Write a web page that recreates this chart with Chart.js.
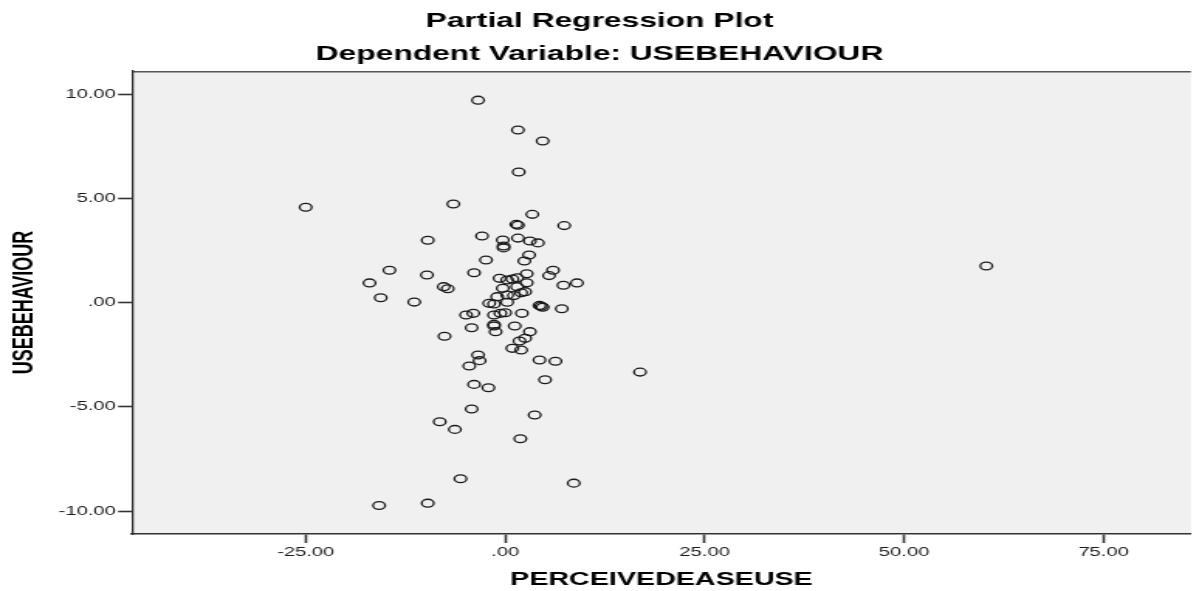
<!DOCTYPE html>
<html>
<head>
<meta charset="utf-8">
<script src="https://cdn.jsdelivr.net/npm/chart.js@4.4.0/dist/chart.umd.min.js"></script>
<style>
  html, body { margin: 0; padding: 0; background: #ffffff; overflow: hidden; }
  #wrap { position: absolute; left: 0; top: 0; width: 774px; height: 591px; transform-origin: 0 0; transform: scaleX(1.54910); }
</style>
</head>
<body>
<div id="wrap"><canvas id="c"></canvas></div>
<script>
// Data
const xValues = [-3.4, 1.6, 4.7, 1.7, -25.0, -6.5, 3.4, 1.4, 1.6, 7.4,
  -9.7, -2.9, -0.3, 1.6, 3.1, 4.1, -0.2, -0.2, 3.0, 2.4,
  -2.4, -14.5, -9.8, -3.9, 6.0, 5.5, 2.7, -0.7, 0.25, 0.9,
  1.5, 2.7, -17.0, 9.0, 7.3, -7.7, -7.2, -0.3, 1.5, 2.5,
  2.0, 0.25, -1.0, 1.1, -15.6, -11.4, -2.0, -1.4, 0.25, 4.3,
  4.7, 4.5, 7.1, -4.9, -4.0, -1.4, -0.6, 0.0, 2.1, -1.4,
  -1.4, -4.2, 1.2, -1.2, 3.1, 2.5, 1.8, -7.6, 0.9, 2.0,
  -3.4, -3.2, -4.5, 4.3, 6.3, 5.0, -3.9, -2.1, -4.2, 3.7,
  -8.2, -6.3, 1.9, -5.6, 8.6, -9.7, -15.8, 60.3, 16.9];
const yValues = [9.72, 8.29, 7.76, 6.27, 4.58, 4.74, 4.24, 3.76, 3.72, 3.70,
  3.00, 3.20, 3.01, 3.10, 2.96, 2.87, 2.72, 2.63, 2.29, 2.00,
  2.05, 1.56, 1.33, 1.44, 1.56, 1.30, 1.39, 1.17, 1.09, 1.14,
  1.20, 0.96, 0.95, 0.95, 0.84, 0.77, 0.67, 0.69, 0.77, 0.53,
  0.48, 0.37, 0.29, 0.34, 0.24, 0.03, -0.03, -0.06, 0.02, -0.13,
  -0.22, -0.17, -0.29, -0.59, -0.51, -0.59, -0.51, -0.48, -0.51, -1.04,
  -1.12, -1.20, -1.12, -1.39, -1.39, -1.71, -1.84, -1.61, -2.19, -2.27,
  -2.51, -2.78, -3.04, -2.75, -2.81, -3.70, -3.92, -4.08, -5.10, -5.39,
  -5.71, -6.08, -6.53, -8.45, -8.66, -9.62, -9.73, 1.76, -3.33];

const xTickValues = [-25, 0, 25, 50, 75];
const xTickLabels = ['-25.00', '.00', '25.00', '50.00', '75.00'];
const yTickValues = [-10, -5, 0, 5, 10];
const yTickLabels = ['-10.00', '-5.00', '.00', '5.00', '10.00'];

const titleText = 'Partial Regression Plot';
const subtitleText = 'Dependent Variable: USEBEHAVIOUR';
const xTitle = 'PERCEIVEDEASEUSE';
const yTitle = 'USEBEHAVIOUR';

const points = xValues.map((x, i) => ({ x: x, y: yValues[i] }));
const FAMILY = "'Liberation Sans', Arial, sans-serif";

const plotBg = {
  id: 'plotBg',
  beforeDraw(chart) {
    const { ctx, chartArea: a } = chart;
    ctx.save();
    ctx.fillStyle = '#f0f0f0';
    ctx.fillRect(a.left, a.top, a.right - a.left, a.bottom - a.top);
    ctx.strokeStyle = '#555555';
    ctx.lineWidth = 1.5;
    ctx.beginPath();
    ctx.moveTo(a.left, a.top + 0.75);
    ctx.lineTo(a.right, a.top + 0.75);
    ctx.stroke();
    ctx.restore();
  }
};

new Chart(document.getElementById('c'), {
  type: 'scatter',
  data: {
    datasets: [{
      data: points,
      pointStyle: 'circle',
      pointRadius: 3.9,
      pointHoverRadius: 3.9,
      pointBorderWidth: 1.3,
      borderColor: '#1a1a1a',
      backgroundColor: 'rgba(0,0,0,0)'
    }]
  },
  options: {
    responsive: true,
    maintainAspectRatio: false,
    animation: false,
    layout: { padding: 0 },
    plugins: {
      legend: { display: false },
      tooltip: { enabled: false },
      title: {
        display: true, text: titleText, color: '#000',
        font: { family: FAMILY, size: 20.5, weight: 'bold' },
        padding: { top: 9.5, bottom: 4.2 }
      },
      subtitle: {
        display: true, text: subtitleText, color: '#000',
        font: { family: FAMILY, size: 20.5, weight: 'bold' },
        padding: { top: 4.2, bottom: 3.9 }
      }
    },
    scales: {
      x: {
        type: 'linear',
        min: -46.77, max: 85.95,
        afterBuildTicks(scale) { scale.ticks = xTickValues.map(v => ({ value: v })); },
        afterFit(scale) { scale.height = 57; },
        grid: { display: true, drawOnChartArea: false, drawTicks: true, tickLength: 9, tickWidth: 1.6, tickColor: '#333' },
        border: { display: true, color: '#333', width: 1.6 },
        ticks: {
          autoSkip: false, maxRotation: 0, padding: 2, color: '#1a1a1a',
          font: { family: FAMILY, size: 13 },
          callback(v) { const i = xTickValues.indexOf(v); return i >= 0 ? xTickLabels[i] : ''; }
        },
        title: {
          display: true, text: xTitle, color: '#000',
          font: { family: FAMILY, size: 18.5, weight: 'bold' },
          padding: { top: 0, bottom: 0 }
        }
      },
      y: {
        type: 'linear',
        min: -11.1, max: 11.12,
        afterBuildTicks(scale) { scale.ticks = yTickValues.map(v => ({ value: v })); },
        afterFit(scale) { scale.width = 85.2; },
        grid: { display: true, drawOnChartArea: false, drawTicks: true, tickLength: 9, tickWidth: 1.6, tickColor: '#333' },
        border: { display: true, color: '#333', width: 1.3 },
        ticks: {
          autoSkip: false, padding: 1.5, color: '#1a1a1a',
          font: { family: FAMILY, size: 13 },
          callback(v) { const i = yTickValues.indexOf(v); return i >= 0 ? yTickLabels[i] : ''; }
        },
        title: {
          display: true, text: yTitle, color: '#000',
          font: { family: FAMILY, size: 18, weight: 'bold' },
          padding: { top: 5.5, bottom: 0 }
        }
      }
    }
  },
  plugins: [plotBg]
});
</script>
</body>
</html>
